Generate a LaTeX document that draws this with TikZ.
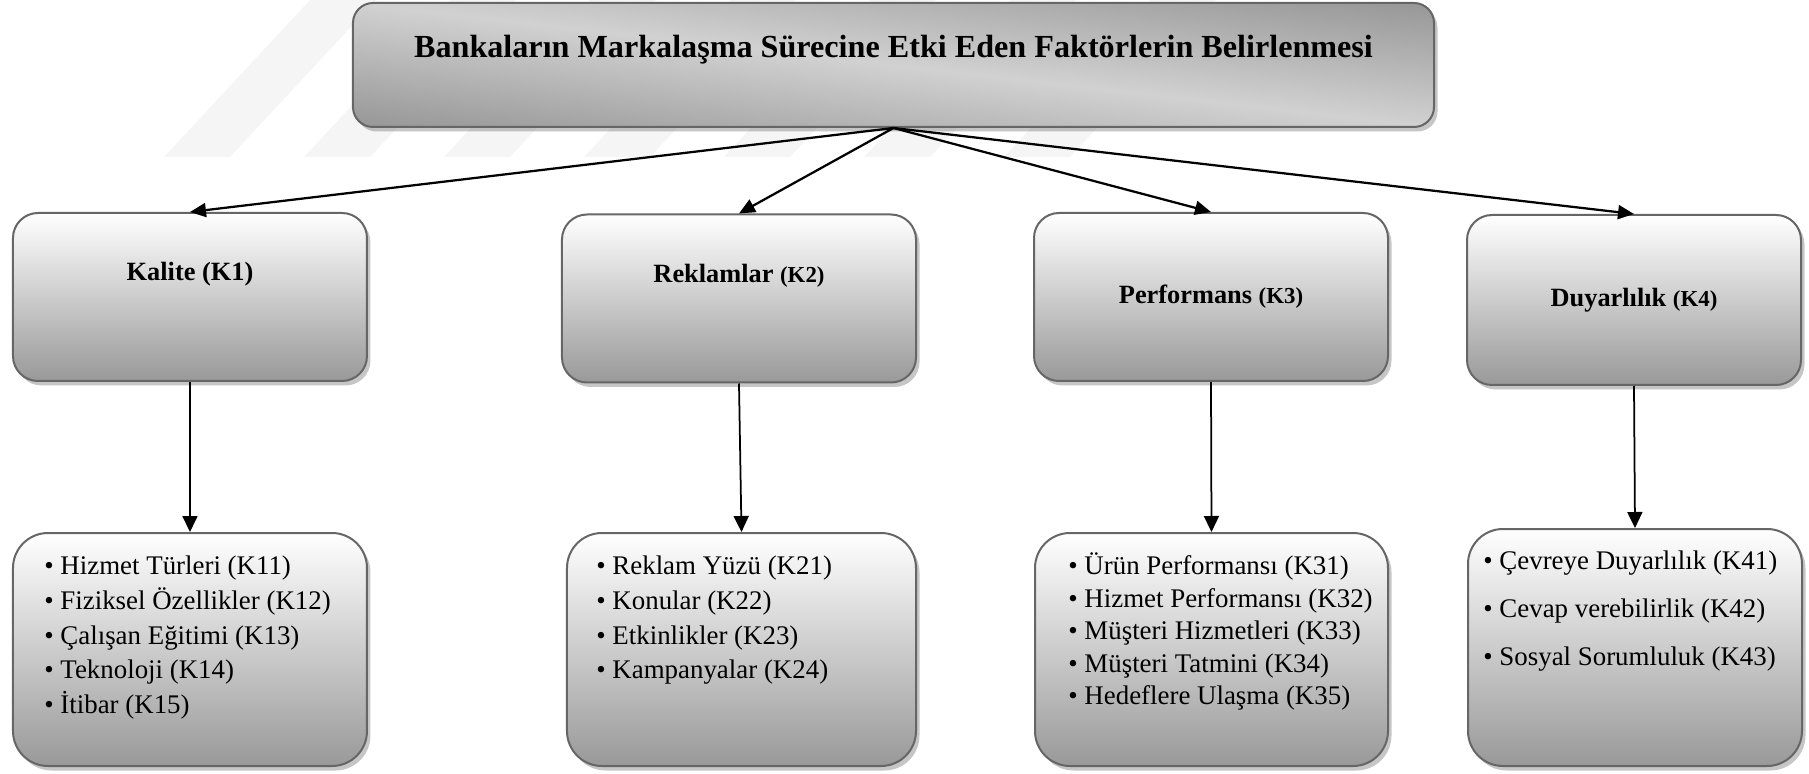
\documentclass[tikz,border=0pt]{standalone}
\usepackage{fontspec}
\setmainfont{Liberation Serif}
\usepackage{tikz}
\usetikzlibrary{calc}
\usetikzlibrary{shapes.geometric, arrows.meta, shadows, positioning}
\pgfdeclarefunctionalshading{titleshade}{\pgfpointorigin}{\pgfpoint{100bp}{100bp}}{}{add 100 div 1 sub abs -0.46 mul 0.82 add dup dup}
\tikzstyle{arrow} = [line width=0.045cm,-{Triangle[length=0.32cm,width=0.28cm]}]
\tikzstyle{downarrow} = [line width=0.035cm,-{Triangle[length=0.32cm,width=0.3cm]}]
\tikzstyle{titlebox} = [rectangle, rounded corners=0.4cm, minimum width=21.62cm, minimum height=2.48cm, text centered, draw=black!60, line width=0.04cm, shading=titleshade, drop shadow={shadow xshift=0.07cm,shadow yshift=-0.09cm,opacity=0.45}, font=\fontsize{18.3}{21}\selectfont\bfseries, text height=0.54cm, text depth=0.85cm]
\tikzstyle{factor} = [rectangle, rounded corners=0.5cm, minimum width=7.08cm, minimum height=3.36cm, text centered, draw=black!60, line width=0.04cm, top color=white, bottom color=black!40, drop shadow={shadow xshift=0.07cm,shadow yshift=-0.09cm,opacity=0.45}, font=\fontsize{15}{18}\selectfont\bfseries, text height=0.44cm, text depth=0.16cm]
\tikzstyle{uptext} = [text depth=1.08cm]
\tikzstyle{itembox} = [rectangle, rounded corners=0.7cm, minimum width=7.08cm, minimum height=4.66cm, draw=black!60, line width=0.04cm, top color=white, bottom color=black!40, drop shadow={shadow xshift=0.07cm,shadow yshift=-0.09cm,opacity=0.45}]
\tikzstyle{itemlist} = [align=left, inner sep=0pt, anchor=north west, font=\fontsize{15.3}{19.8}\selectfont]
\newcommand{\kcode}[1]{{\fontsize{13}{15}\selectfont #1}}

\begin{document}
\begin{tikzpicture}[node distance=4.64cm]
\useasboundingbox (-17.87,1.3) rectangle (18.31,-14.18);
\foreach \s in {-14.59,-11.79,-8.99,-6.19,-3.39,-0.59,2.21}
  \fill[black!4] (\s,-1.84) -- ++(1.32,0) -- ++(2.92,3.14) -- ++(-1.32,0) -- cycle;

\node(title)[titlebox]{Bankaların Markalaşma Sürecine Etki Eden Faktörlerin Belirlenmesi};
\node(k1)[factor,uptext,below of=title,xshift=-14.07cm]{Kalite (K1)};
\node(k2)[factor,uptext,below of=title,xshift=-3.09cm,yshift=-0.03cm]{Reklamlar \kcode{(K2)}};
\node(k3)[factor,below of=title,xshift=6.35cm]{Performans \kcode{(K3)}};
\node(k4)[factor,below of=title,xshift=14.81cm,yshift=-0.06cm,minimum width=6.68cm,minimum height=3.4cm]{Duyarlılık \kcode{(K4)}};

\node(b1)[itembox,below of=k1,yshift=-2.41cm]{};
\node(b2)[itembox,below of=k2,xshift=0.05cm,yshift=-2.38cm,minimum width=6.98cm]{};
\node(b3)[itembox,below of=k3,xshift=0.01cm,yshift=-2.41cm,minimum width=7.06cm]{};
\node(b4)[itembox,below of=k4,xshift=0.02cm,yshift=-2.31cm,minimum width=6.68cm,minimum height=4.74cm]{};

\node(l1)[itemlist,below right=0.47cm and 0.64cm of b1.north west]{• Hizmet Türleri (K11)\\• Fiziksel Özellikler (K12)\\• Çalışan Eğitimi (K13)\\• Teknoloji (K14)\\• İtibar (K15)};
\node(l2)[itemlist,below right=0.47cm and 0.6cm of b2.north west]{• Reklam Yüzü (K21)\\• Konular (K22)\\• Etkinlikler (K23)\\• Kampanyalar (K24)};
\node(l3)[itemlist,below right=0.41cm and 0.68cm of b3.north west,font=\fontsize{15.3}{18.5}\selectfont]{• Ürün Performansı (K31)\\• Hizmet Performansı (K32)\\• Müşteri Hizmetleri (K33)\\• Müşteri Tatmini (K34)\\• Hedeflere Ulaşma (K35)};
\node(l4)[itemlist,below right=0.45cm and 0.32cm of b4.north west,font=\fontsize{15.3}{27.2}\selectfont]{• Çevreye Duyarlılık (K41)\\• Cevap verebilirlik (K42)\\• Sosyal Sorumluluk (K43)};

\draw[arrow] (title.south) -- (k1.north);
\draw[arrow] (title.south) -- (k2.north);
\draw[arrow] (title.south) -- (k3.north);
\draw[arrow] (title.south) -- (k4.north);
\draw[downarrow] (k1.south) -- (b1.north);
\draw[downarrow] (k2.south) -- (b2.north);
\draw[downarrow] (k3.south) -- (b3.north);
\draw[downarrow] (k4.south) -- (b4.north);

\end{tikzpicture}
\end{document}
